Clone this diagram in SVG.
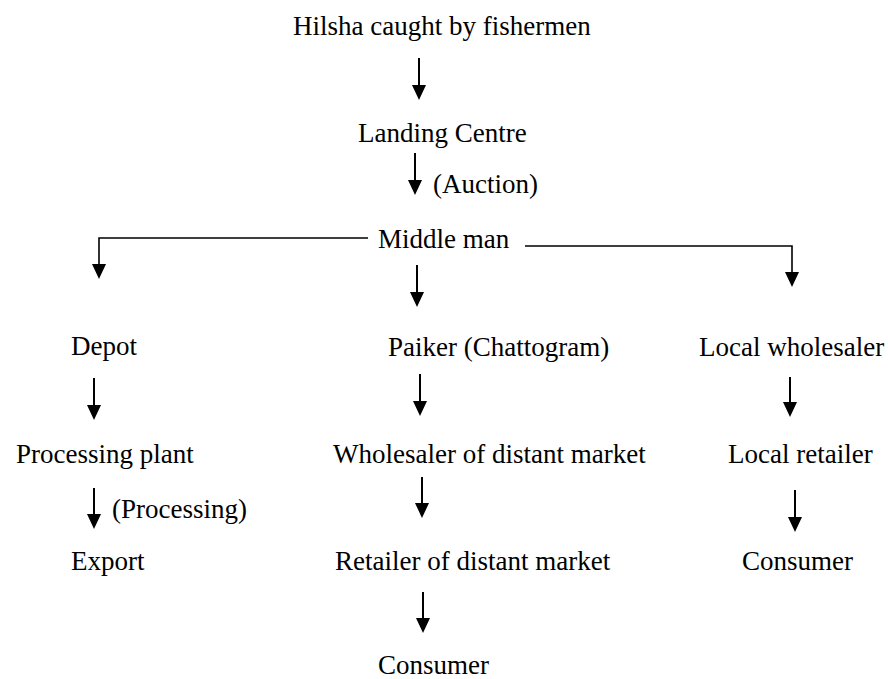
<svg xmlns="http://www.w3.org/2000/svg" width="888" height="679" viewBox="0 0 888 679">
  <style>
    .lbl { font-family: "Liberation Serif", "Times New Roman", serif; font-size: 27px; fill: #000; }
    .flow { fill: none; stroke: #000; stroke-width: 2; marker-end: url(#head); }
    .branch { fill: none; stroke: #000; stroke-width: 1.6; marker-end: url(#head); }
  </style>
  <defs>
    <marker id="head" markerUnits="userSpaceOnUse" markerWidth="15" markerHeight="14" viewBox="0 0 15 14" refX="0" refY="7" orient="auto">
      <path d="M0,0 L15,7 L0,14 Z" fill="#000"/>
    </marker>
  </defs>

  <rect width="888" height="679" fill="#fff"/>

  <!-- connectors: each path ends at the base of its arrowhead -->
  <g id="connectors">
    <path class="flow" d="M419,58 V85"/>
    <path class="flow" d="M415,153 V180"/>
    <path class="branch" d="M368,238 H99 V264"/>
    <path class="flow" d="M417,265 V292"/>
    <path class="branch" d="M525,246 H792 V272"/>
    <path class="flow" d="M94,378 V405"/>
    <path class="flow" d="M420,374 V401"/>
    <path class="flow" d="M790,377 V402"/>
    <path class="flow" d="M94,488 V514"/>
    <path class="flow" d="M422,477 V503"/>
    <path class="flow" d="M795,490 V517"/>
    <path class="flow" d="M423,592 V618"/>
  </g>

  <g id="catch"><text class="lbl" x="293" y="35">Hilsha caught by fishermen</text></g>
  <g id="landing-centre"><text class="lbl" x="358" y="142">Landing Centre</text></g>
  <g id="auction-label"><text class="lbl" x="433" y="193">(Auction)</text></g>
  <g id="middle-man"><text class="lbl" x="378" y="248">Middle man</text></g>

  <g id="depot"><text class="lbl" x="71" y="355">Depot</text></g>
  <g id="paiker"><text class="lbl" x="388" y="356">Paiker (Chattogram)</text></g>
  <g id="local-wholesaler"><text class="lbl" x="699" y="356">Local wholesaler</text></g>

  <g id="processing-plant"><text class="lbl" x="16" y="463">Processing plant</text></g>
  <g id="distant-wholesaler"><text class="lbl" x="333" y="463">Wholesaler of distant market</text></g>
  <g id="local-retailer"><text class="lbl" x="728" y="463">Local retailer</text></g>

  <g id="processing-label"><text class="lbl" x="112" y="518">(Processing)</text></g>

  <g id="export"><text class="lbl" x="71" y="570">Export</text></g>
  <g id="distant-retailer"><text class="lbl" x="335" y="570">Retailer of distant market</text></g>
  <g id="local-consumer"><text class="lbl" x="742" y="570">Consumer</text></g>

  <g id="distant-consumer"><text class="lbl" x="378" y="674">Consumer</text></g>
</svg>
